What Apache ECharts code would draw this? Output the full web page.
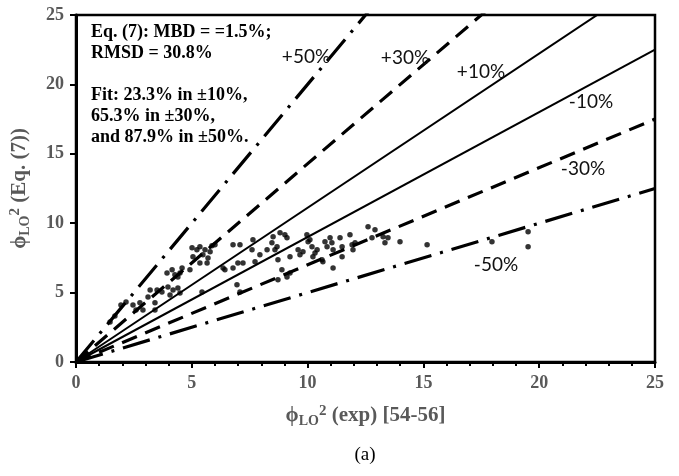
<!DOCTYPE html>
<html>
<head>
<meta charset="utf-8">
<script src="https://cdn.jsdelivr.net/npm/echarts@6/dist/echarts.min.js"></script>
<style>html,body{margin:0;padding:0;background:#fff}#c{width:679px;height:476px}</style>
</head>
<body>
<div id="c"></div>
<script>
// Experimental phi_LO^2 [54-56]
var expX = [1.47,1.68,1.94,2.16,2.46,2.59,2.89,2.76,3.11,3.20,3.41,3.50,3.41,3.71,3.97,4.06,4.19,4.40,4.49,3.93,4.15,4.27,4.49,4.58,4.40,4.92,5.05,5.22,5.01,5.35,5.57,5.70,5.35,5.48,5.79,5.87,5.66,6.00,5.44,6.35,6.43,6.78,6.78,7.08,6.99,7.21,6.95,7.08,7.60,7.64,7.73,7.94,8.25,8.46,8.68,8.81,9.02,9.11,8.51,8.59,8.72,8.89,9.24,9.11,8.72,9.24,9.59,9.67,9.80,9.97,10.02,10.10,10.19,10.23,10.32,10.41,10.62,10.66,10.75,10.84,10.97,11.05,11.10,11.10,11.40,11.49,11.49,11.83,11.92,11.96,12.05,12.61,12.91,12.78,13.26,13.47,13.34,13.99,15.16,17.96,19.52,19.52];
// Predicted phi_LO^2 by Eq. (7)
var predY = [2.89,3.32,4.11,4.33,4.11,3.75,3.75,4.26,4.69,5.19,4.26,5.19,3.75,5.05,5.41,4.83,5.19,5.34,4.98,6.42,6.64,6.28,6.42,6.78,6.13,6.64,7.58,8.08,8.23,8.30,8.08,7.50,7.14,7.72,7.94,8.37,7.14,8.44,5.05,6.78,6.64,6.78,8.44,8.44,7.14,7.14,5.56,5.05,8.08,8.80,7.22,7.72,8.08,8.59,8.30,9.31,9.16,8.95,9.02,8.08,7.36,6.64,6.42,6.13,5.92,7.58,8.08,7.72,7.94,9.16,8.66,8.80,8.30,7.58,7.86,8.08,7.36,7.22,8.66,8.30,8.95,8.59,8.08,6.78,8.95,8.30,7.58,9.16,8.44,8.08,8.59,9.74,9.52,8.95,9.02,8.95,8.59,8.66,8.44,8.66,9.38,8.30];
// Deviation bands: names and y value reached at x = 25
var bandNames = ['+50%','+30%','+10%','-10%','-30%','-50%'];
var bandEndY = [50, 35.71, 27.78, 22.5, 17.5, 12.5];
var axisTicks = ['0','5','10','15','20','25'];

var chart = echarts.init(document.getElementById('c'), null, {renderer:'canvas'});
var gray = '#595959';
var serif = '"Liberation Serif","Times New Roman",serif';

var styles = {
  '+50%': {type:[28,9,3,9], width:3.2},
  '-50%': {type:[28,9,3,9], width:3.2},
  '+30%': {type:[16,9], width:3.2},
  '-30%': {type:[16,9], width:3.2},
  '+10%': {type:'solid', width:2},
  '-10%': {type:'solid', width:2}
};

var series = bandNames.map(function(n,i){
  return {
    name:n, type:'line', silent:true, symbol:'none', clip:true,
    data:[[0,0],[25,bandEndY[i]]],
    lineStyle:{color:'#000', width:styles[n].width, type:styles[n].type, cap:'butt'},
    z:2
  };
});
series.push({
  type:'scatter', symbol:'circle', symbolSize:5.5,
  itemStyle:{color:'#000'},
  data: expX.map(function(x,i){return [x,predY[i]];}),
  z:3
});

var lblPos = [[306,57],[405,58],[481,72],[591,102],[583,169],[496,265]];
var graphics = bandNames.map(function(n,i){
  return {type:'text', x:lblPos[i][0], y:lblPos[i][1], style:{text:n, font:'19px Lato, "Open Sans", sans-serif', fill:'#111', align:'center', verticalAlign:'middle'}, z:10};
});
var boxLines = ['Eq. (7): MBD = =1.5%;','RMSD = 30.8%','','Fit: 23.3% in \u00b110%,','65.3% in \u00b130%,','and 87.9% in \u00b150%.'];
graphics.push({type:'text', x:91, y:22, style:{text:boxLines.join('\n'), font:'bold 18px '+serif, fill:'#000', lineHeight:21, align:'left', verticalAlign:'top'}, z:10});
graphics.push({type:'text', x:365, y:455, style:{text:'(a)', font:'19px '+serif, fill:'#000', align:'center', verticalAlign:'middle'}, z:10});

var nameRich = {
  m:{fontFamily:serif, fontSize:21, fontWeight:'bold', color:gray},
  sub:{fontFamily:serif, fontSize:14, fontWeight:'bold', color:gray, verticalAlign:'bottom', padding:[9,0,0,0]},
  sup:{fontFamily:serif, fontSize:15, fontWeight:'bold', color:gray, verticalAlign:'top', padding:[0,0,9,0]}
};

chart.setOption({
  animation:false,
  backgroundColor:'#fff',
  grid:{left:76, right:24, top:15, bottom:114, show:true, borderColor:'#000', borderWidth:2.5, backgroundColor:'transparent'},
  xAxis:{
    type:'value', min:0, max:25, interval:5,
    axisLine:{lineStyle:{color:'#000', width:3}},
    axisTick:{show:true, length:6, lineStyle:{color:'#000', width:2}},
    minorTick:{show:true, splitNumber:5, length:4, lineStyle:{color:'#000', width:2}},
    splitLine:{show:false},
    axisLabel:{margin:12, fontFamily:serif, fontSize:18, fontWeight:'bold', color:gray, formatter:function(v){return axisTicks[Math.round(v/5)];}},
    name:'{m|\u03d5}{sub|LO}{sup|2}{m| (exp) [54-56]}', nameLocation:'middle', nameGap:42,
    nameTextStyle:{rich:nameRich}
  },
  yAxis:{
    type:'value', min:0, max:25, interval:5,
    axisLine:{lineStyle:{color:'#000', width:3}},
    axisTick:{show:true, length:6, lineStyle:{color:'#000', width:2}},
    splitLine:{show:false},
    axisLabel:{margin:12, fontFamily:serif, fontSize:18, fontWeight:'bold', color:gray, formatter:function(v){return axisTicks[Math.round(v/5)];}},
    name:'{m|\u03d5}{sub|LO}{sup|2}{m| (Eq. (7))}', nameLocation:'middle', nameGap:44,
    nameTextStyle:{rich:nameRich}
  },
  graphic:graphics,
  series:series
});
</script>
</body>
</html>
